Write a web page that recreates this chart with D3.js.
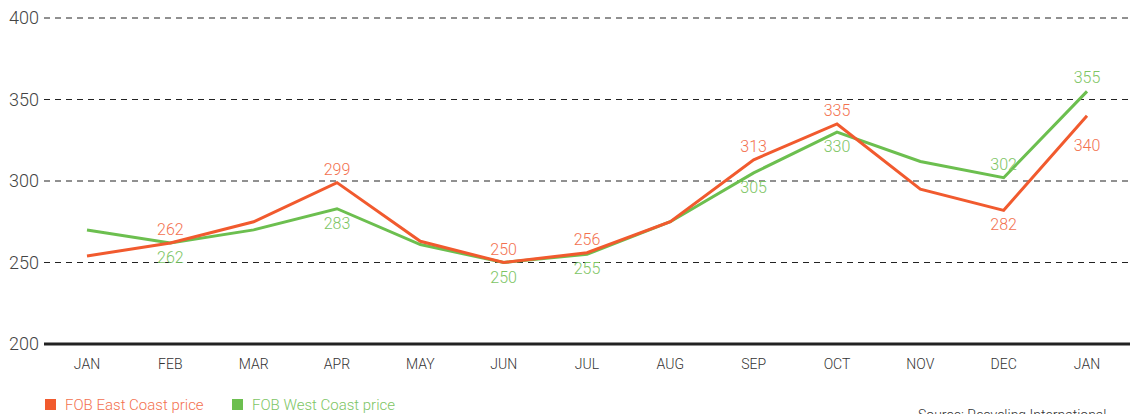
<!DOCTYPE html>
<html>
<head>
<meta charset="utf-8">
<script src="https://cdn.jsdelivr.net/npm/d3@7"></script>
<style>
  html, body { margin: 0; padding: 0; background: #fff; }
  svg { display: block; font-family: Roboto, "Open Sans", sans-serif; font-weight: 300; }
</style>
</head>
<body>
<svg id="chart" width="1130" height="414"></svg>
<script>
// Monthly FOB prices
const months = ["JAN", "FEB", "MAR", "APR", "MAY", "JUN", "JUL", "AUG", "SEP", "OCT", "NOV", "DEC", "JAN"];
const eastCoast = [254, 262, 275, 299, 263, 250, 256, 275, 313, 335, 295, 282, 340];
const westCoast = [270, 262, 270, 283, 261, 250, 255, 275, 305, 330, 312, 302, 355];
const yTicks = [200, 250, 300, 350, 400];
const seriesNames = ["FOB East Coast price", "FOB West Coast price"];

// Which points carry a value label, and on which side of the line (-1 above, 1 below, 0 none)
const eastLabelSide = [0, -1, 0, -1, 0, -1, -1, 0, -1, -1, 0, 1, 1];
const westLabelSide = [0, 1, 0, 1, 0, 1, 1, 0, 1, 1, 0, -1, -1];

const colors = {
  east: "#f15a2e", eastText: "#f3714f",
  west: "#6cbf4f", westText: "#7dc564"
};

const svg = d3.select("#chart");
const x = d3.scaleLinear().domain([0, months.length - 1]).range([87, 1087]);
const y = d3.scaleLinear().domain([200, 400]).range([344, 18]);

// Dashed gridlines
svg.append("g").selectAll("line")
  .data(yTicks.filter(t => t > 200))
  .join("line")
  .attr("x1", 44).attr("x2", 1130)
  .attr("y1", d => y(d)).attr("y2", d => y(d))
  .attr("stroke", "#222").attr("stroke-width", 1)
  .attr("stroke-dasharray", "6,5");

// Baseline
svg.append("line")
  .attr("x1", 44).attr("x2", 1130)
  .attr("y1", y(200)).attr("y2", y(200))
  .attr("stroke", "#222").attr("stroke-width", 3);

// Y tick labels
svg.append("g").selectAll("text")
  .data(yTicks)
  .join("text")
  .attr("x", 39).attr("y", d => y(d) + 6)
  .attr("text-anchor", "end")
  .attr("font-size", 18).attr("fill", "#444")
  .text(d => d);

// Month labels
svg.append("g").selectAll("text")
  .data(months)
  .join("text")
  .attr("x", (d, i) => x(i)).attr("y", 369)
  .attr("text-anchor", "middle")
  .attr("font-size", 14).attr("fill", "#333")
  .text(d => d);

const line = d3.line().x((d, i) => x(i)).y(d => y(d));

function drawSeries(values, stroke, textColor, sides, belowOffset) {
  svg.append("path")
    .datum(values)
    .attr("d", line)
    .attr("fill", "none")
    .attr("stroke", stroke)
    .attr("stroke-width", 3)
    .attr("stroke-linejoin", "miter");

  svg.append("g").selectAll("text")
    .data(values.map((v, i) => ({ v, i, side: sides[i] })).filter(d => d.side !== 0))
    .join("text")
    .attr("x", d => x(d.i))
    .attr("y", d => y(d.v) + (d.side < 0 ? -8 : (belowOffset[d.i] || 20)))
    .attr("text-anchor", "middle")
    .attr("font-size", 16).attr("fill", textColor)
    .text(d => d.v);
}

drawSeries(westCoast, colors.west, colors.westText, westLabelSide, {});
drawSeries(eastCoast, colors.east, colors.eastText, eastLabelSide, { 12: 35 });

// Legend
const legend = svg.append("g");
const legendItems = [
  { name: seriesNames[0], color: colors.east, text: colors.eastText, x: 45 },
  { name: seriesNames[1], color: colors.west, text: colors.westText, x: 232 }
];
legendItems.forEach(item => {
  legend.append("rect")
    .attr("x", item.x).attr("y", 399)
    .attr("width", 11).attr("height", 11)
    .attr("fill", item.color);
  legend.append("text")
    .attr("x", item.x + 20).attr("y", 410)
    .attr("font-size", 15).attr("fill", item.text)
    .text(item.name);
});

// Source note
svg.append("text")
  .attr("x", 918).attr("y", 420)
  .attr("font-size", 14).attr("fill", "#333")
  .text("Source: Recycling International");
</script>
</body>
</html>
